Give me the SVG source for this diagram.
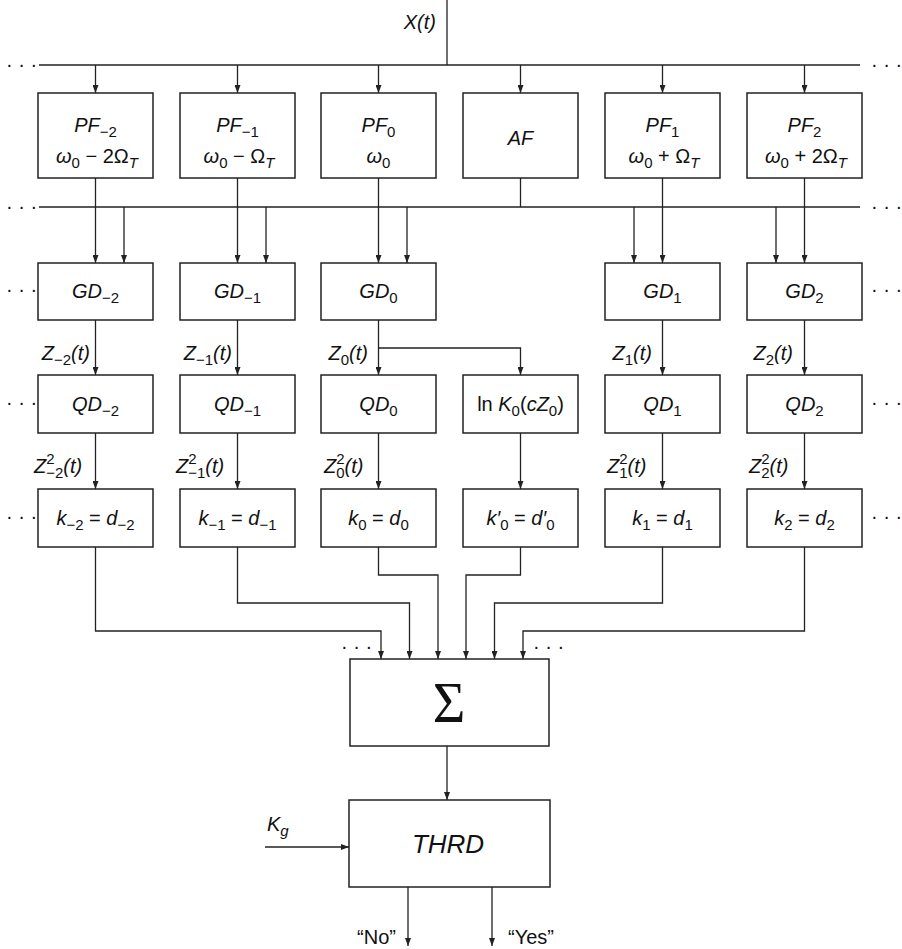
<svg xmlns="http://www.w3.org/2000/svg" width="902" height="949" viewBox="0 0 902 949">
<defs>
<marker id="ah" markerWidth="8" markerHeight="6" refX="8" refY="3" orient="auto" markerUnits="userSpaceOnUse"><path d="M0,0 L8,3 L0,6 z" fill="#222"/></marker>
<style>
.b{fill:#fff;stroke:#222;stroke-width:1.5}
.c path{fill:none;stroke:#222;stroke-width:1.3}
.a{marker-end:url(#ah)}
text{font-family:"Liberation Sans",Arial,sans-serif;font-size:20px;fill:#111}
.t{font-style:italic;text-anchor:middle}
.l{font-style:italic;font-size:20px}
.s{font-size:15px;font-style:normal}
.si{font-size:15px;font-style:italic}
.n{font-style:normal}
.d{font-style:normal}
</style>
</defs>
<rect width="902" height="949" fill="#fff"/>
<g id="connectors" class="c">
<path d="M447 0V65"/>
<path d="M39 65H860"/>
<path class="a" d="M95.5 65V93"/><path class="a" d="M237.5 65V93"/><path class="a" d="M378.5 65V93"/><path class="a" d="M520.5 65V93"/><path class="a" d="M662.5 65V93"/><path class="a" d="M804.5 65V93"/>
<path d="M39 207H860"/>
<path class="a" d="M95.5 178V263"/><path class="a" d="M124 207V263"/>
<path class="a" d="M237.5 178V263"/><path class="a" d="M266 207V263"/>
<path class="a" d="M378.5 178V263"/><path class="a" d="M407 207V263"/>
<path d="M520.5 178V207"/>
<path class="a" d="M662.5 178V263"/><path class="a" d="M634 207V263"/>
<path class="a" d="M804.5 178V263"/><path class="a" d="M776 207V263"/>
<path class="a" d="M95.5 320V375"/><path class="a" d="M237.5 320V375"/><path class="a" d="M378.5 320V375"/><path class="a" d="M662.5 320V375"/><path class="a" d="M804.5 320V375"/>
<path class="a" d="M378.5 348H520.5V375"/>
<path class="a" d="M95.5 433V489"/><path class="a" d="M237.5 433V489"/><path class="a" d="M378.5 433V489"/><path class="a" d="M520.5 433V489"/><path class="a" d="M662.5 433V489"/><path class="a" d="M804.5 433V489"/>
<path class="a" d="M95.5 547V631H381V659"/>
<path class="a" d="M237.5 547V603H409.5V659"/>
<path class="a" d="M378.5 547V575H438V659"/>
<path class="a" d="M520.5 547V575H466V659"/>
<path class="a" d="M662.5 547V603H494.5V659"/>
<path class="a" d="M804.5 547V631H523V659"/>
<path class="a" d="M447 746V800"/>
<path class="a" d="M265 847H349"/>
<path class="a" d="M408 887V946"/>
<path class="a" d="M492 887V946"/>
</g>
<g id="labels">
<text class="l" x="436" y="29" text-anchor="end">X(t)</text>
<text class="d" x="6" y="71">· · ·</text><text class="d" x="871" y="71">· · ·</text>
<text class="d" x="6" y="213">· · ·</text><text class="d" x="871" y="213">· · ·</text>
<text class="d" x="6" y="296">· · ·</text><text class="d" x="871" y="296">· · ·</text>
<text class="d" x="6" y="409">· · ·</text><text class="d" x="871" y="409">· · ·</text>
<text class="d" x="6" y="523">· · ·</text><text class="d" x="871" y="523">· · ·</text>
<text class="d" x="341" y="653">· · ·</text><text class="d" x="533" y="653">· · ·</text>
<text class="l" x="90" y="360" text-anchor="end">Z<tspan class="s" dy="5">−2</tspan><tspan dy="-5">(t)</tspan></text>
<text class="l" x="232" y="360" text-anchor="end">Z<tspan class="s" dy="5">−1</tspan><tspan dy="-5">(t)</tspan></text>
<text class="l" x="368" y="360" text-anchor="end">Z<tspan class="s" dy="5">0</tspan><tspan dy="-5">(t)</tspan></text>
<text class="l" x="652" y="360" text-anchor="end">Z<tspan class="s" dy="5">1</tspan><tspan dy="-5">(t)</tspan></text>
<text class="l" x="793" y="360" text-anchor="end">Z<tspan class="s" dy="5">2</tspan><tspan dy="-5">(t)</tspan></text>
<text class="l" x="34" y="473">Z<tspan class="s" dy="-9">2</tspan><tspan class="s" dx="-8.3" dy="14">−2</tspan><tspan dy="-5">(t)</tspan></text>
<text class="l" x="176" y="473">Z<tspan class="s" dy="-9">2</tspan><tspan class="s" dx="-8.3" dy="14">−1</tspan><tspan dy="-5">(t)</tspan></text>
<text class="l" x="324" y="473">Z<tspan class="s" dy="-9">2</tspan><tspan class="s" dx="-8.3" dy="14">0</tspan><tspan dy="-5">(t)</tspan></text>
<text class="l" x="607" y="473">Z<tspan class="s" dy="-9">2</tspan><tspan class="s" dx="-8.3" dy="14">1</tspan><tspan dy="-5">(t)</tspan></text>
<text class="l" x="749" y="473">Z<tspan class="s" dy="-9">2</tspan><tspan class="s" dx="-8.3" dy="14">2</tspan><tspan dy="-5">(t)</tspan></text>
<text class="l" x="267" y="831">K<tspan class="si" dy="5">g</tspan></text>
<text class="n" x="396" y="944" text-anchor="end">“No”</text>
<text class="n" x="508" y="944">“Yes”</text>
</g>
<g id="pf_m2"><rect class="b" x="38" y="93" width="115" height="85"/><text class="t" x="95.5" y="132">PF<tspan class="s" dy="5">−2</tspan></text><text class="t" x="97" y="163">ω<tspan class="s" dy="5">0</tspan><tspan class="n" dy="-5"> − 2Ω</tspan><tspan class="si" dy="5">T</tspan></text></g>
<g id="pf_m1"><rect class="b" x="180" y="93" width="115" height="85"/><text class="t" x="237.5" y="132">PF<tspan class="s" dy="5">−1</tspan></text><text class="t" x="239" y="163">ω<tspan class="s" dy="5">0</tspan><tspan class="n" dy="-5"> − Ω</tspan><tspan class="si" dy="5">T</tspan></text></g>
<g id="pf_0"><rect class="b" x="321" y="93" width="115" height="85"/><text class="t" x="378.5" y="132">PF<tspan class="s" dy="5">0</tspan></text><text class="t" x="378.5" y="163">ω<tspan class="s" dy="5">0</tspan></text></g>
<g id="af"><rect class="b" x="463" y="93" width="115" height="85"/><text class="t" x="520.5" y="145">AF</text></g>
<g id="pf_1"><rect class="b" x="605" y="93" width="115" height="85"/><text class="t" x="662.5" y="132">PF<tspan class="s" dy="5">1</tspan></text><text class="t" x="664" y="163">ω<tspan class="s" dy="5">0</tspan><tspan class="n" dy="-5"> + Ω</tspan><tspan class="si" dy="5">T</tspan></text></g>
<g id="pf_2"><rect class="b" x="747" y="93" width="115" height="85"/><text class="t" x="804.5" y="132">PF<tspan class="s" dy="5">2</tspan></text><text class="t" x="806" y="163">ω<tspan class="s" dy="5">0</tspan><tspan class="n" dy="-5"> + 2Ω</tspan><tspan class="si" dy="5">T</tspan></text></g>
<g id="gd_m2"><rect class="b" x="38" y="263" width="115" height="57"/><text class="t" x="95.5" y="298">GD<tspan class="s" dy="5">−2</tspan></text></g>
<g id="gd_m1"><rect class="b" x="180" y="263" width="115" height="57"/><text class="t" x="237.5" y="298">GD<tspan class="s" dy="5">−1</tspan></text></g>
<g id="gd_0"><rect class="b" x="321" y="263" width="115" height="57"/><text class="t" x="378.5" y="298">GD<tspan class="s" dy="5">0</tspan></text></g>
<g id="gd_1"><rect class="b" x="605" y="263" width="115" height="57"/><text class="t" x="662.5" y="298">GD<tspan class="s" dy="5">1</tspan></text></g>
<g id="gd_2"><rect class="b" x="747" y="263" width="115" height="57"/><text class="t" x="804.5" y="298">GD<tspan class="s" dy="5">2</tspan></text></g>
<g id="qd_m2"><rect class="b" x="38" y="375" width="115" height="58"/><text class="t" x="95.5" y="411">QD<tspan class="s" dy="5">−2</tspan></text></g>
<g id="qd_m1"><rect class="b" x="180" y="375" width="115" height="58"/><text class="t" x="237.5" y="411">QD<tspan class="s" dy="5">−1</tspan></text></g>
<g id="qd_0"><rect class="b" x="321" y="375" width="115" height="58"/><text class="t" x="378.5" y="411">QD<tspan class="s" dy="5">0</tspan></text></g>
<g id="lnk"><rect class="b" x="463" y="375" width="115" height="58"/><text class="t" x="520.5" y="411"><tspan class="n">ln </tspan>K<tspan class="s" dy="5">0</tspan><tspan class="n" dy="-5">(</tspan>cZ<tspan class="s" dy="5">0</tspan><tspan class="n" dy="-5">)</tspan></text></g>
<g id="qd_1"><rect class="b" x="605" y="375" width="115" height="58"/><text class="t" x="662.5" y="411">QD<tspan class="s" dy="5">1</tspan></text></g>
<g id="qd_2"><rect class="b" x="747" y="375" width="115" height="58"/><text class="t" x="804.5" y="411">QD<tspan class="s" dy="5">2</tspan></text></g>
<g id="k_m2"><rect class="b" x="38" y="489" width="115" height="58"/><text class="t" x="95.5" y="525">k<tspan class="s" dy="5">−2</tspan><tspan class="n" dy="-5"> = </tspan>d<tspan class="s" dy="5">−2</tspan></text></g>
<g id="k_m1"><rect class="b" x="180" y="489" width="115" height="58"/><text class="t" x="237.5" y="525">k<tspan class="s" dy="5">−1</tspan><tspan class="n" dy="-5"> = </tspan>d<tspan class="s" dy="5">−1</tspan></text></g>
<g id="k_0"><rect class="b" x="321" y="489" width="115" height="58"/><text class="t" x="378.5" y="525">k<tspan class="s" dy="5">0</tspan><tspan class="n" dy="-5"> = </tspan>d<tspan class="s" dy="5">0</tspan></text></g>
<g id="k_0p"><rect class="b" x="463" y="489" width="115" height="58"/><text class="t" x="520.5" y="525">k′<tspan class="s" dy="5">0</tspan><tspan class="n" dy="-5"> = </tspan>d′<tspan class="s" dy="5">0</tspan></text></g>
<g id="k_1"><rect class="b" x="605" y="489" width="115" height="58"/><text class="t" x="662.5" y="525">k<tspan class="s" dy="5">1</tspan><tspan class="n" dy="-5"> = </tspan>d<tspan class="s" dy="5">1</tspan></text></g>
<g id="k_2"><rect class="b" x="747" y="489" width="115" height="58"/><text class="t" x="804.5" y="525">k<tspan class="s" dy="5">2</tspan><tspan class="n" dy="-5"> = </tspan>d<tspan class="s" dy="5">2</tspan></text></g>
<g id="sum"><rect class="b" x="350" y="659" width="199" height="87"/><text x="449" y="722" text-anchor="middle" style="font-family:'Liberation Serif','Times New Roman',serif;font-size:56px">Σ</text></g>
<g id="thrd"><rect class="b" x="349" y="800" width="201" height="87"/><text class="t" x="448" y="853" style="font-size:26px">THRD</text></g>
</svg>
